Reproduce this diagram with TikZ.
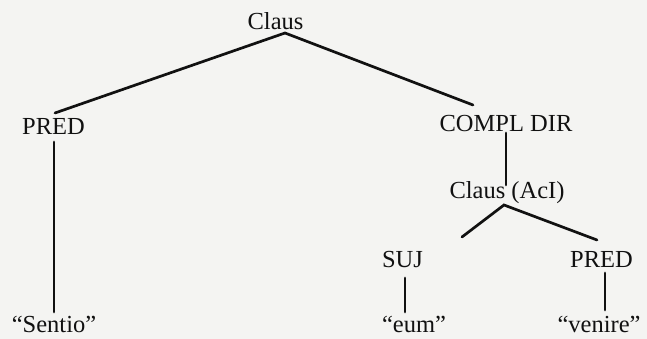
\documentclass[tikz,border=0pt]{standalone}
\usepackage{fontspec}
\setmainfont{Liberation Serif}
\definecolor{paper}{HTML}{F4F4F2}
\definecolor{ink}{HTML}{111111}
\begin{document}
\begin{tikzpicture}[x=1pt,y=1pt,
  lbl/.style={inner sep=0pt,anchor=base,text=ink,font=\fontsize{24.5}{28}\selectfont},
  branch/.style={draw=ink,line width=2.7pt,line cap=round}]
\fill[paper] (0,0) rectangle (647,339);
\useasboundingbox (0,0) rectangle (647,339);

% tree labels (y measured upward from the bottom edge)
\node[lbl] (root)   at (275.5,309) {Claus};
\node[lbl] (pred)   at (53.5,204)  {PRED};
\node[lbl] (compl)  at (506,207)   {COMPL DIR};
\node[lbl] (aci)    at (507,140)   {Claus (AcI)};
\node[lbl] (suj)    at (402.5,71)  {SUJ};
\node[lbl] (predb)  at (601.5,71)  {PRED};
\node[lbl] (sentio) at (54,6)      {“Sentio”};
\node[lbl] (eum)    at (414,6)     {“eum”};
\node[lbl] (venire) at (599,6)     {“venire”};

% branch end points
\coordinate (root-s)   at (285,306);
\coordinate (pred-n)   at (55,226);
\coordinate (pred-s)   at (54,197);
\coordinate (compl-n)  at (473,234);
\coordinate (compl-s)  at (506,206);
\coordinate (aci-n)    at (506,154);
\coordinate (aci-s)    at (504,134);
\coordinate (suj-n)    at (462,102);
\coordinate (suj-s)    at (405,61);
\coordinate (predb-n)  at (597,99);
\coordinate (predb-s)  at (605,66);
\coordinate (sentio-n) at (54,27);
\coordinate (eum-n)    at (405,27);
\coordinate (venire-n) at (605,29);

\draw[branch] (pred-n) -- (root-s) -- (compl-n);
\draw[branch] (pred-s) -- (sentio-n);
\draw[branch] (compl-s) -- (aci-n);
\draw[branch] (suj-n) -- (aci-s) -- (predb-n);
\draw[branch] (suj-s) -- (eum-n);
\draw[branch] (predb-s) -- (venire-n);
\end{tikzpicture}
\end{document}
